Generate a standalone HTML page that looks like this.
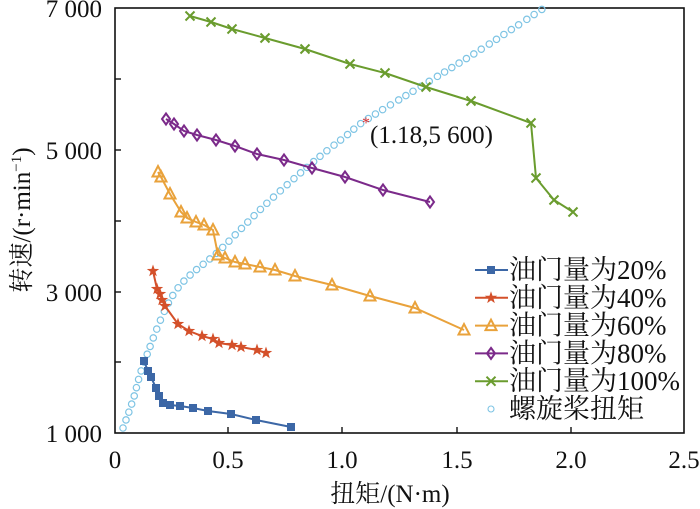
<!DOCTYPE html>
<html><head><meta charset="utf-8"><style>
body{margin:0;background:#fff}
svg{display:block}
text{font-family:"Liberation Serif","Noto Serif CJK SC","Noto Sans CJK SC",serif;fill:#111}
</style></head><body>
<svg id="s" width="700" height="509" viewBox="0 0 700 509" xmlns="http://www.w3.org/2000/svg">
<rect x="115" y="8" width="569" height="425" fill="none" stroke="#111" stroke-width="1.6"/>
<g stroke="#111" stroke-width="1.4">
<line x1="115" y1="79" x2="121" y2="79"/><line x1="115" y1="150" x2="121" y2="150"/>
<line x1="115" y1="221" x2="121" y2="221"/><line x1="115" y1="292" x2="121" y2="292"/>
<line x1="115" y1="362" x2="121" y2="362"/>
<line x1="228" y1="433" x2="228" y2="427"/><line x1="342" y1="433" x2="342" y2="427"/>
<line x1="457" y1="433" x2="457" y2="427"/><line x1="571" y1="433" x2="571" y2="427"/>
</g>
<g font-size="25" text-anchor="end">
<text x="102" y="17">7 000</text><text x="102" y="159">5 000</text>
<text x="102" y="301">3 000</text><text x="102" y="442">1 000</text>
</g>
<g font-size="25" text-anchor="middle">
<text x="115" y="468">0</text><text x="228" y="468">0.5</text><text x="342" y="468">1.0</text>
<text x="457" y="468">1.5</text><text x="571" y="468">2.0</text><text x="684" y="468">2.5</text>
<text x="390" y="502">扭矩/(N·m)</text>
<text transform="translate(30,220) rotate(-90)">转速/(r·min<tspan font-size="15" dy="-9">−1</tspan><tspan dy="9">)</tspan></text>
</g>
<g id="prop"></g>
<g id="ser"></g>
<text x="366" y="128" font-size="16" fill="#e03030" style="fill:#e03030" text-anchor="middle">*</text>
<text x="370" y="143" font-size="25">(1.18,5 600)</text>
<g id="leg" font-size="27"></g>
</svg>
<script>
var NS="http://www.w3.org/2000/svg";
function el(p,t,a){var e=document.createElementNS(NS,t);for(var k in a)e.setAttribute(k,a[k]);p.appendChild(e);return e;}
var prop=document.getElementById('prop');
var C=[[123,428],[133,400],[145,360],[175,292],[220,250],[265,205],[312,163],[347,135],[366,120],[420,87],[480,50],[544,8]];
// dense catmull-rom
var pts=[];
for(var i=0;i<C.length-1;i++){var p0=C[Math.max(0,i-1)],p1=C[i],p2=C[i+1],p3=C[Math.min(C.length-1,i+2)];
 for(var t=0;t<1;t+=0.02){var t2=t*t,t3=t2*t;
  pts.push([0.5*(2*p1[0]+(-p0[0]+p2[0])*t+(2*p0[0]-5*p1[0]+4*p2[0]-p3[0])*t2+(-p0[0]+3*p1[0]-3*p2[0]+p3[0])*t3),
            0.5*(2*p1[1]+(-p0[1]+p2[1])*t+(2*p0[1]-5*p1[1]+4*p2[1]-p3[1])*t2+(-p0[1]+3*p1[1]-3*p2[1]+p3[1])*t3)]);}}
pts.push(C[C.length-1]);
var acc=0,last=pts[0];el(prop,'circle',{cx:last[0],cy:last[1],r:3.2,fill:'none',stroke:'#7ec4e4','stroke-width':1.2});
for(var j=1;j<pts.length;j++){var d=Math.hypot(pts[j][0]-pts[j-1][0],pts[j][1]-pts[j-1][1]);acc+=d;
 if(acc>=8.3){acc=0;el(prop,'circle',{cx:pts[j][0],cy:pts[j][1],r:3.2,fill:'none',stroke:'#7ec4e4','stroke-width':1.2});}}
function mk(g,type,x,y,c){
 if(type=='sq')el(g,'rect',{x:x-4,y:y-4,width:8,height:8,fill:c});
 else if(type=='star'){var p=[];for(var i=0;i<10;i++){var r=i%2?2.6:6.5,a=-Math.PI/2+i*Math.PI/5;p.push((x+r*Math.cos(a)).toFixed(1)+','+(y+r*Math.sin(a)).toFixed(1));}el(g,'polygon',{points:p.join(' '),fill:c});}
 else if(type=='tri')el(g,'polygon',{points:(x-5.5)+','+(y+4.5)+' '+(x+5.5)+','+(y+4.5)+' '+x+','+(y-6),fill:'none',stroke:c,'stroke-width':2});
 else if(type=='dia')el(g,'polygon',{points:x+','+(y-5.5)+' '+(x+4)+','+y+' '+x+','+(y+5.5)+' '+(x-4)+','+y,fill:'none',stroke:c,'stroke-width':2});
 else if(type=='x'){el(g,'path',{d:'M'+(x-4.5)+' '+(y-4.5)+'L'+(x+4.5)+' '+(y+4.5)+'M'+(x+4.5)+' '+(y-4.5)+'L'+(x-4.5)+' '+(y+4.5),stroke:c,'stroke-width':2});}
}
var S=[
['#3c67a6','sq',[[144,361],[148,371],[151,377],[156,388],[159,396],[163,403],[170,405],[180,406],[193,408],[208,411],[231,414],[256,420],[291,427]]],
['#d4502a','star',[[153,271],[157,289],[160,294],[162,300],[165,306],[178,324],[189,331],[202,336],[213,339],[219,343],[232,345],[241,347],[257,350],[266,353]]],
['#e9a23b','tri',[[158,172],[161,177],[170,194],[181,212],[187,218],[196,222],[204,225],[213,230],[218,255],[225,258],[235,262],[245,264],[260,267],[275,270],[295,276],[332,285],[370,296],[415,308],[464,330]]],
['#7b2a8a','dia',[[166,119],[174,124],[184,131],[197,135],[216,140],[235,146],[257,154],[284,160],[312,168],[345,177],[383,190],[430,202]]],
['#6a9c2e','x',[[190,16],[211,22],[232,29],[265,38],[305,49],[350,64],[385,73],[426,87],[471,101],[531,123],[536,178],[554,200],[573,212]]]];
var ser=document.getElementById('ser');
S.forEach(function(s){el(ser,'polyline',{points:s[2].map(function(p){return p.join(',')}).join(' '),fill:'none',stroke:s[0],'stroke-width':2});
 s[2].forEach(function(p){mk(ser,s[1],p[0],p[1],s[0]);});});
var leg=document.getElementById('leg');
var labs=['油门量为20%','油门量为40%','油门量为60%','油门量为80%','油门量为100%','螺旋桨扭矩'];
for(var i=0;i<6;i++){var y=270+i*27.8;
 if(i<5){el(leg,'line',{x1:475,y1:y,x2:508,y2:y,stroke:S[i][0],'stroke-width':2});mk(leg,S[i][1],491,y,S[i][0]);}
 else el(leg,'circle',{cx:491,cy:y,r:3,fill:'none',stroke:'#7ec4e4','stroke-width':1.1});
 var t=el(leg,'text',{x:509,y:y+9});t.textContent=labs[i];}
</script>
</body></html>
